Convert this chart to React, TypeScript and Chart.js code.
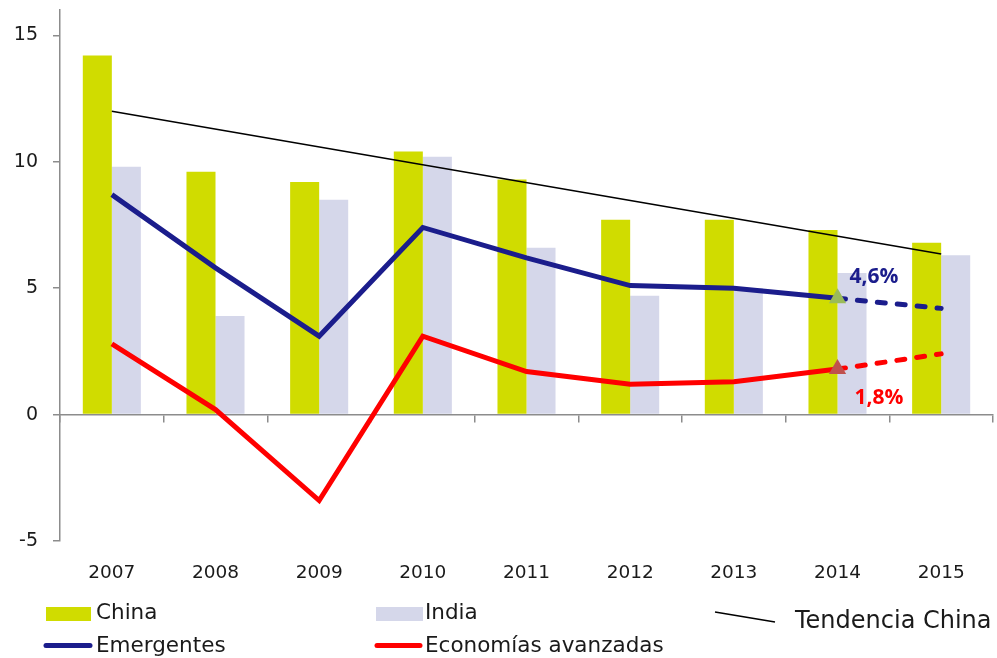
import React, { useEffect, useRef } from "react";
import { Chart, registerables } from "chart.js";

Chart.register(...registerables);

const years = ["2007", "2008", "2009", "2010", "2011", "2012", "2013", "2014", "2015"];
const china = [14.2, 9.6, 9.2, 10.4, 9.3, 7.7, 7.7, 7.3, 6.8];
const india = [9.8, 3.9, 8.5, 10.2, 6.6, 4.7, 5.0, 5.6, 6.3];
const emergentes = [8.7, 5.8, 3.1, 7.4, 6.2, 5.1, 5.0, 4.6, 4.2];
const avanzadas = [2.8, 0.2, -3.4, 3.1, 1.7, 1.2, 1.3, 1.8, 2.4];
const tendenciaChina = [12.0, null, null, null, null, null, null, null, 6.35];
const markerIndex = 7; // 2014: last observed value, dashed afterwards
const yTicks = [-5, 0, 5, 10, 15];

const C_CHINA = "#D0DC00";
const C_INDIA = "#D5D7EA";
const C_BLUE = "#1B1D8C";
const C_RED = "#FF0000";
const C_AXIS = "#8C8C8C";
const C_TEXT = "#1a1a1a";
const FONT = "'DejaVu Sans', sans-serif";

const fmt = (v: number) => v.toFixed(1).replace(".", ",") + "%";

const overlayPlugin = {
  id: "overlay",
  afterDatasetsDraw(chart: any) {
    const ctx = chart.ctx;
    const xs = chart.scales.x;
    const ys = chart.scales.y;
    const px = xs.getPixelForValue(markerIndex);
    ctx.save();
    ctx.font = "bold 21px 'Open Sans', sans-serif";
    ctx.textBaseline = "middle";
    ctx.textAlign = "left";
    ctx.fillStyle = C_BLUE;
    ctx.fillText(fmt(emergentes[markerIndex]), px + 12, ys.getPixelForValue(emergentes[markerIndex]) - 21);
    ctx.fillStyle = C_RED;
    ctx.fillText(fmt(avanzadas[markerIndex]), px + 17, ys.getPixelForValue(avanzadas[markerIndex]) + 29);
    ctx.restore();
  },
  afterDraw(chart: any) {
    const ctx = chart.ctx;
    ctx.save();
    ctx.textBaseline = "middle";
    ctx.textAlign = "left";
    ctx.font = "21.5px " + FONT;
    // row 1
    ctx.fillStyle = C_CHINA;
    ctx.fillRect(46, 607, 45, 14);
    ctx.fillStyle = C_INDIA;
    ctx.fillRect(376, 607, 47, 14);
    ctx.fillStyle = C_TEXT;
    ctx.fillText("China", 96, 613);
    ctx.fillText("India", 425, 613);
    // row 2
    ctx.lineCap = "round";
    ctx.lineWidth = 5;
    ctx.strokeStyle = C_BLUE;
    ctx.beginPath();
    ctx.moveTo(46, 645.5);
    ctx.lineTo(90, 645.5);
    ctx.stroke();
    ctx.strokeStyle = C_RED;
    ctx.beginPath();
    ctx.moveTo(377, 645.5);
    ctx.lineTo(420, 645.5);
    ctx.stroke();
    ctx.fillText("Emergentes", 96, 646);
    ctx.fillText("Economías avanzadas", 425, 646);
    // trend legend
    ctx.lineCap = "butt";
    ctx.lineWidth = 1.5;
    ctx.strokeStyle = "#000";
    ctx.beginPath();
    ctx.moveTo(715, 612);
    ctx.lineTo(775, 622);
    ctx.stroke();
    ctx.font = "24px " + FONT;
    ctx.fillText("Tendencia China", 795, 622);
    ctx.restore();
  },
};

export default function App() {
  const ref = useRef<HTMLCanvasElement>(null);
  useEffect(() => {
    if (!ref.current) return;
    const chart = new Chart(ref.current, {
      type: "bar",
      data: {
        labels: years,
        datasets: [
          {
            type: "line",
            label: "Tendencia China",
            data: tendenciaChina,
            borderColor: "#000",
            borderWidth: 1.5,
            pointRadius: 0,
            spanGaps: true,
            order: 1,
          } as any,
          {
            type: "line",
            label: "Emergentes",
            data: emergentes,
            borderColor: C_BLUE,
            borderWidth: 5,
            borderJoinStyle: "miter",
            pointStyle: "triangle",
            pointRadius: emergentes.map((_, i) => (i === markerIndex ? 10 : 0)),
            pointBackgroundColor: "#9BBB59",
            pointBorderWidth: 0,
            segment: {
              borderDash: (c: any) => (c.p0DataIndex >= markerIndex ? [8, 12] : undefined),
              borderCapStyle: (c: any) => (c.p0DataIndex >= markerIndex ? "round" : "butt"),
            },
            order: 1,
          } as any,
          {
            type: "line",
            label: "Economías avanzadas",
            data: avanzadas,
            borderColor: C_RED,
            borderWidth: 5,
            borderJoinStyle: "miter",
            pointStyle: "triangle",
            pointRadius: avanzadas.map((_, i) => (i === markerIndex ? 10 : 0)),
            pointBackgroundColor: "#C0504D",
            pointBorderWidth: 0,
            segment: {
              borderDash: (c: any) => (c.p0DataIndex >= markerIndex ? [8, 12] : undefined),
              borderCapStyle: (c: any) => (c.p0DataIndex >= markerIndex ? "round" : "butt"),
            },
            order: 1,
          } as any,
          {
            type: "bar",
            label: "China",
            data: china,
            backgroundColor: C_CHINA,
            categoryPercentage: 0.56,
            barPercentage: 1,
            order: 2,
          },
          {
            type: "bar",
            label: "India",
            data: india,
            backgroundColor: C_INDIA,
            categoryPercentage: 0.56,
            barPercentage: 1,
            order: 2,
          },
        ],
      },
      options: {
        responsive: false,
        animation: false,
        devicePixelRatio: 1,
        layout: { padding: { top: 10, right: 4, left: 0, bottom: 0 } },
        plugins: { legend: { display: false }, tooltip: { enabled: false } },
        scales: {
          x: {
            type: "category",
            position: "bottom",
            offset: true,
            grid: { display: false },
            border: { display: false },
            ticks: { font: { family: FONT, size: 18.5 }, color: C_TEXT, padding: 13, maxRotation: 0 },
            afterFit: (s: any) => {
              s.height = 117;
              s.paddingLeft = 0;
              s.paddingRight = 0;
            },
          },
          x0: {
            type: "category",
            position: { y: 0 },
            offset: true,
            grid: {
              display: true,
              drawOnChartArea: false,
              drawTicks: true,
              tickLength: 7,
              color: C_AXIS,
              lineWidth: 1.5,
              offset: true,
            },
            border: { display: true, color: C_AXIS, width: 1.5 },
            ticks: { display: false },
          } as any,
          y: {
            type: "linear",
            min: -5,
            max: 16,
            afterBuildTicks: (s: any) => {
              s.ticks = yTicks.map((v) => ({ value: v }));
            },
            ticks: {
              stepSize: 5,
              font: { family: FONT, size: 19, lineHeight: 1 },
              color: C_TEXT,
              padding: 15,
            },
            grid: { drawOnChartArea: false, tickLength: 7, color: C_AXIS, lineWidth: 1.5 },
            border: { color: C_AXIS, width: 1.5 },
            afterFit: (s: any) => {
              s.width = 60;
              s.paddingTop = 0;
              s.paddingBottom = 0;
            },
          },
        },
      },
      plugins: [overlayPlugin],
    });
    return () => chart.destroy();
  }, []);
  return (
    <div style={{ position: "absolute", left: 0, top: 0, width: 997, height: 658, background: "#fff" }}>
      <canvas ref={ref} width={997} height={658} />
    </div>
  );
}
